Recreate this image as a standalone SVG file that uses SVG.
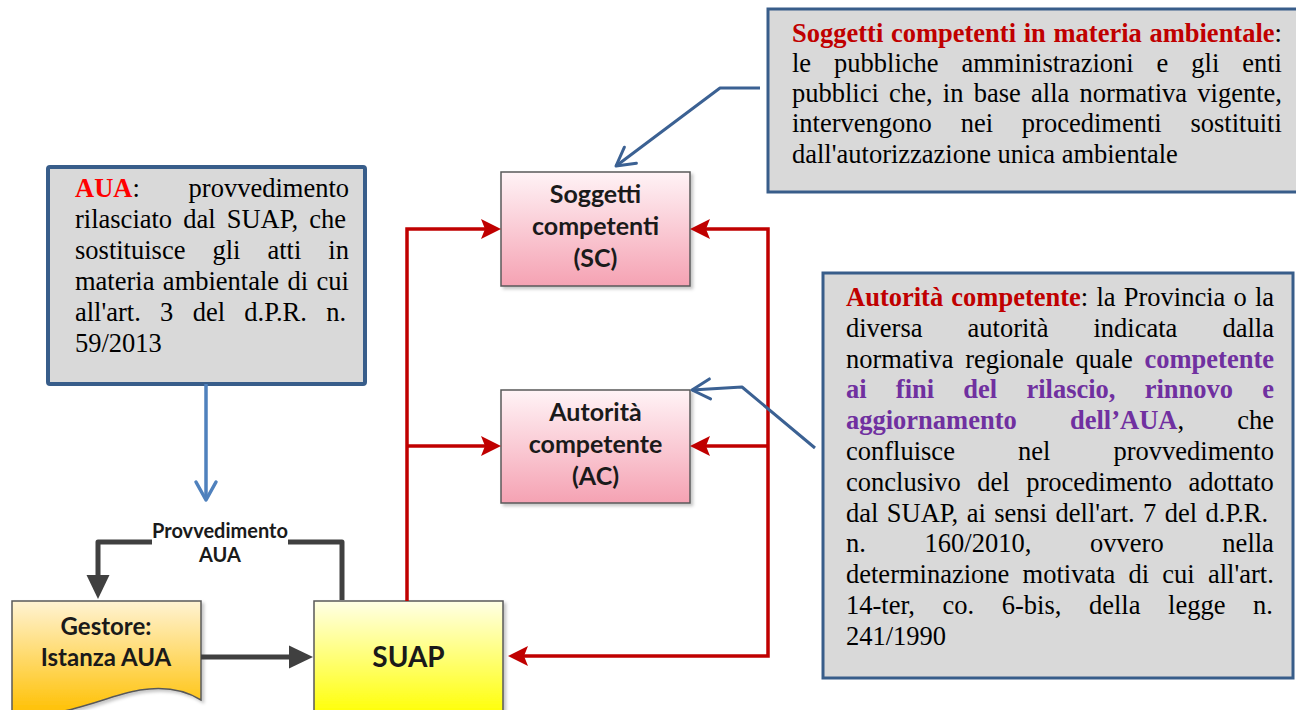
<svg xmlns="http://www.w3.org/2000/svg" width="1296" height="710" viewBox="0 0 1296 710">
<defs>
<style>
.note{fill:#D9D9D9;stroke:#385D8A;stroke-width:3}
.tx{font-family:"Liberation Serif","Times New Roman",serif;font-size:26.5px;fill:#000}
.b{font-weight:bold}
.dr{fill:#C00000}
.rd{fill:#FF0000}
.pu{fill:#7030A0}
.lbl{font-family:Lato,"Open Sans",sans-serif;font-weight:bold;fill:#1a1a1a;text-anchor:middle}
.node{stroke:#595959;stroke-width:1.5}
.red{fill:none;stroke:#C00000;stroke-width:3.5;stroke-linejoin:miter}
.dk{fill:none;stroke:#404040;stroke-width:5;stroke-linejoin:round}
.bl{fill:none;stroke:#3B6193;stroke-width:3;stroke-linejoin:round}
.bl2{fill:none;stroke:#4F81BD;stroke-width:3.5}
</style>
<linearGradient id="gp" x1="0" y1="0" x2="0" y2="1"><stop offset="0" stop-color="#FFF3F6"/><stop offset="1" stop-color="#F5A2B3"/></linearGradient>
<linearGradient id="gy" x1="0" y1="0" x2="0" y2="1"><stop offset="0" stop-color="#FFFFE6"/><stop offset="1" stop-color="#FFFF00"/></linearGradient>
<linearGradient id="go" x1="0" y1="0" x2="0" y2="1"><stop offset="0" stop-color="#FFF3D3"/><stop offset="1" stop-color="#FFC000"/></linearGradient>
<filter id="sh" x="-10%" y="-10%" width="130%" height="130%"><feDropShadow dx="2.5" dy="2.5" stdDeviation="1.5" flood-color="#000" flood-opacity="0.22"/></filter>
<marker id="ar" markerUnits="userSpaceOnUse" markerWidth="40" markerHeight="40" viewBox="-20 -20 40 40" refX="0" refY="0" orient="auto-start-reverse" overflow="visible"><path d="M16,0 L-4,-10 L0,0 L-4,10 Z" fill="#C00000"/></marker>
<marker id="ad" markerUnits="userSpaceOnUse" markerWidth="50" markerHeight="50" viewBox="-25 -25 50 50" refX="0" refY="0" orient="auto" overflow="visible"><path d="M23,0 L-1,-11.5 L-1,11.5 Z" fill="#404040"/></marker>
<marker id="ob" markerUnits="userSpaceOnUse" markerWidth="50" markerHeight="50" viewBox="-25 -25 50 50" refX="0" refY="0" orient="auto" overflow="visible"><path d="M-18,-10 L0,0 L-18,10" fill="none" stroke="#3B6193" stroke-width="3" stroke-linecap="round" stroke-linejoin="round"/></marker>
<marker id="ob2" markerUnits="userSpaceOnUse" markerWidth="50" markerHeight="50" viewBox="-25 -25 50 50" refX="0" refY="0" orient="auto" overflow="visible"><path d="M-18,-10 L0,0 L-18,10" fill="none" stroke="#4F81BD" stroke-width="3.5" stroke-linecap="round" stroke-linejoin="round"/></marker>
</defs>

<g id="note-sc">
<rect class="note" x="768" y="9" width="540" height="183"/>
<text class="tx" x="792" y="42" style="word-spacing:1.05px"><tspan class="b dr">Soggetti competenti in materia ambientale</tspan>:</text>
<text class="tx" x="792" y="72" style="word-spacing:16.3px">le pubbliche amministrazioni e gli enti</text>
<text class="tx" x="792" y="102" style="word-spacing:3.65px">pubblici che, in base alla normativa vigente,</text>
<text class="tx" x="792" y="132" style="word-spacing:22.2px">intervengono nei procedimenti sostituiti</text>
<text class="tx" x="792" y="163">dall'autorizzazione unica ambientale</text>
</g>

<g id="note-aua">
<rect class="note" x="48" y="167" width="317" height="217" rx="2" style="stroke-width:4"/>
<text class="tx" x="75" y="197" style="word-spacing:42.2px"><tspan class="b rd">AUA</tspan>: provvedimento</text>
<text class="tx" x="75" y="228" style="word-spacing:4.5px">rilasciato dal SUAP, che</text>
<text class="tx" x="75" y="259" style="word-spacing:20.4px">sostituisce gli atti in</text>
<text class="tx" x="75" y="290" style="word-spacing:1.8px">materia ambientale di cui</text>
<text class="tx" x="75" y="321" style="word-spacing:12.65px">all'art. 3 del d.P.R. n.</text>
<text class="tx" x="75" y="352">59/2013</text>
</g>

<g id="note-ac">
<rect class="note" x="823" y="273" width="470" height="405"/>
<text class="tx" x="846" y="306" style="word-spacing:1.56px"><tspan class="b dr">Autorità competente</tspan>: la Provincia o la</text>
<text class="tx" x="846" y="336.8" style="word-spacing:38.4px">diversa autorità indicata dalla</text>
<text class="tx" x="846" y="367.6" style="word-spacing:5.07px">normativa regionale quale <tspan class="b pu">competente</tspan></text>
<text class="tx b pu" x="846" y="398.4" style="word-spacing:22.6px">ai fini del rilascio, rinnovo e</text>
<text class="tx" x="846" y="429.2" style="word-spacing:46.6px"><tspan class="b pu">aggiornamento dell’AUA</tspan>, che</text>
<text class="tx" x="846" y="460" style="word-spacing:56.5px">confluisce nel provvedimento</text>
<text class="tx" x="846" y="490.8" style="word-spacing:9.9px">conclusivo del procedimento adottato</text>
<text class="tx" x="846" y="521.6" style="word-spacing:1.79px">dal SUAP, ai sensi dell'art. 7 del d.P.R.</text>
<text class="tx" x="846" y="552.4" style="word-spacing:52.1px">n. 160/2010, ovvero nella</text>
<text class="tx" x="846" y="583.2" style="word-spacing:6.6px">determinazione motivata di cui all'art.</text>
<text class="tx" x="846" y="614" style="word-spacing:21px">14-ter, co. 6-bis, della legge n.</text>
<text class="tx" x="846" y="644.8">241/1990</text>
</g>

<g id="sc">
<rect class="node" x="501" y="172" width="189" height="114" fill="url(#gp)" filter="url(#sh)"/>
<text class="lbl" x="595.5" y="203" font-size="25">Soggetti</text>
<text class="lbl" x="595.5" y="235" font-size="25">competenti</text>
<text class="lbl" x="595.5" y="267" font-size="25">(SC)</text>
</g>

<g id="ac">
<rect class="node" x="501" y="390" width="189" height="113" fill="url(#gp)" filter="url(#sh)"/>
<text class="lbl" x="595.5" y="421" font-size="25">Autorità</text>
<text class="lbl" x="595.5" y="453" font-size="25">competente</text>
<text class="lbl" x="595.5" y="485" font-size="25">(AC)</text>
</g>

<g id="suap">
<rect class="node" x="314" y="601" width="189" height="116" fill="url(#gy)" filter="url(#sh)"/>
<text class="lbl" x="408.5" y="667" font-size="28">SUAP</text>
</g>

<g id="gestore">
<path class="node" d="M12,601 H201 V700 C185,690 165,686 140,690 C100,697 60,722 12,712 Z" fill="url(#go)" filter="url(#sh)"/>
<text class="lbl" x="106" y="635" font-size="24" fill="#262626">Gestore:</text>
<text class="lbl" x="106" y="666" font-size="24" fill="#262626">Istanza AUA</text>
</g>

<g id="connectors">
<path class="red" d="M407,601 V229 H485" marker-end="url(#ar)"/>
<path class="red" d="M407,446 H485" marker-end="url(#ar)"/>
<path class="red" d="M706,229 H768 V656 H524" marker-start="url(#ar)" marker-end="url(#ar)"/>
<path class="red" d="M768,446 H706" marker-end="url(#ar)"/>
<path class="dk" d="M201,657 H290" marker-end="url(#ad)"/>
<path class="dk" d="M342,600 V542 H288"/>
<path class="dk" d="M152,542 H98 V576" marker-end="url(#ad)"/>
<text class="lbl" x="220" y="538" font-size="20">Provvedimento</text>
<text class="lbl" x="220" y="562" font-size="20">AUA</text>
<path class="bl2" d="M206,384 V500" marker-end="url(#ob2)"/>
<path class="bl" d="M760,88 H720 L616,166" marker-end="url(#ob)"/>
<path class="bl" d="M815,448 L742,387 L692,390" marker-end="url(#ob)"/>
</g>
</svg>
